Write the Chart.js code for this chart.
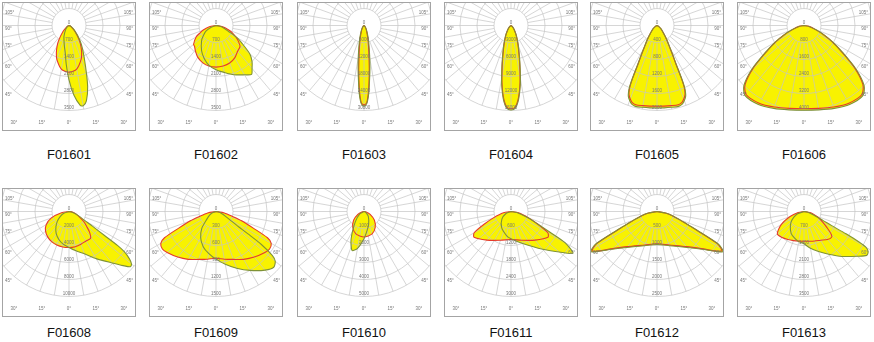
<!DOCTYPE html>
<html>
<head>
<meta charset="utf-8">
<script src="https://cdn.jsdelivr.net/npm/chart.js@4.4.1/dist/chart.umd.min.js"></script>
<style>
  body { margin: 0; background: #fff; }
  #wrap { position: relative; width: 874px; height: 342px; overflow: hidden; }
  .panel { position: absolute; width: 132px; height: 127px; border: 1px solid #a4a4a4; }
  .panel canvas { display: block; }
  .name { position: absolute; width: 134px; text-align: center; font: 13px "Liberation Sans", Arial, sans-serif; color: #111; }
</style>
</head>
<body>
<div id="wrap"></div>
<script>
// panel names and ring step (cd per ring)
const names = ['F01601', 'F01602', 'F01603', 'F01604', 'F01605', 'F01606',
               'F01608', 'F01609', 'F01610', 'F01611', 'F01612', 'F01613'];
const ringSteps = [700, 700, 6000, 3000, 400, 800, 2000, 300, 1000, 600, 500, 700];
const sideAngles = [105, 90, 75, 60, 45];
const bottomTicks = ['30°', '15°', '0°', '15°', '30°'];

// [angle from nadir (deg), intensity cd]; C0-180 plane (red) and C90-270 plane (green)
const c0_01 = [[-90,0],[-60,105],[-45,350],[-35,735],[-30,980],[-25,1230],[-20,1470],[-10,1820],[0,1925],[10,1820],[20,1470],[25,1230],[30,980],[35,735],[45,350],[60,105],[90,0]];
const c90_01 = [[-90,0],[-60,70],[-40,210],[-25,490],[-18,665],[-12,900],[-8,1120],[-4,1610],[0,2240],[4,2870],[8,3325],[10,3360],[13,3185],[17,2625],[22,1820],[30,1120],[37,730],[50,280],[70,70],[90,0]];

const c0_02 = [[-90,0],[-80,280],[-70,595],[-65,735],[-60,945],[-50,1205],[-46,1230],[-40,1330],[-30,1505],[-20,1625],[-10,1695],[0,1715],[10,1695],[20,1645],[30,1540],[40,1385],[49,1310],[55,1120],[60,945],[66,735],[70,595],[80,280],[90,0]];
const c90_02 = [[-90,0],[-70,210],[-60,490],[-50,700],[-44,855],[-30,1190],[-20,1435],[-10,1665],[0,1820],[10,1960],[20,2155],[30,2345],[36,2490],[40,2310],[45,2100],[50,1820],[56,1275],[60,1000],[65,560],[70,385],[80,140],[90,0]];

const c0_03 = [[-90,0],[-45,480],[-30,1500],[-20,3300],[-16,5100],[-12,7800],[-9,11400],[-7,15300],[-6,17700],[-4,23100],[-2,27300],[0,28000],[2,27300],[4,23100],[6,17700],[7,15300],[9,11400],[12,7800],[16,5100],[20,3300],[30,1500],[45,480],[90,0]];
const c90_03 = [[-90,0],[-45,600],[-30,1680],[-22,3300],[-17,5400],[-13,8100],[-10,11700],[-8,15000],[-6,18900],[-4,24000],[-2,27600],[0,28500],[2,27600],[4,24000],[6,18900],[8,15000],[10,11700],[13,8100],[17,5400],[22,3300],[30,1680],[45,600],[90,0]];

const c0_04 = [[-90,0],[-50,300],[-40,750],[-30,1650],[-25,2400],[-20,3600],[-15,5550],[-12,7500],[-9,10200],[-6,12750],[-3,14400],[0,14700],[3,14400],[6,12750],[9,10200],[12,7500],[15,5550],[20,3600],[25,2400],[30,1650],[40,750],[50,300],[90,0]];
const c90_04 = [[-90,0],[-50,330],[-40,800],[-30,1750],[-25,2550],[-20,3800],[-15,5800],[-12,7800],[-9,10500],[-6,13000],[-3,14600],[0,14900],[3,14600],[6,13000],[9,10500],[12,7800],[15,5800],[20,3800],[25,2550],[30,1750],[40,800],[50,330],[90,0]];

const c0_05 = [[-90,0],[-60,50],[-50,120],[-40,240],[-35,380],[-31,540],[-28,780],[-26,1040],[-25,1320],[-24,1560],[-23,1680],[-22,1760],[-20,1840],[-18,1900],[-15,1930],[-10,1915],[-5,1905],[0,1900],[5,1905],[10,1915],[15,1930],[18,1900],[20,1840],[22,1760],[23,1680],[24,1560],[25,1320],[26,1040],[28,780],[31,540],[35,380],[40,240],[50,120],[60,50],[90,0]];
const c90_05 = [[-90,0],[-60,52],[-50,125],[-40,250],[-35,395],[-31,560],[-28,810],[-26,1080],[-25,1370],[-24,1600],[-23,1720],[-22,1800],[-20,1880],[-18,1940],[-15,1970],[-10,1955],[-5,1945],[0,1940],[5,1945],[10,1955],[15,1970],[18,1940],[20,1880],[22,1800],[23,1720],[24,1600],[25,1370],[26,1080],[28,810],[31,560],[35,395],[40,250],[50,125],[60,52],[90,0]];

const c0_06 = [[-90,0],[-80,240],[-70,600],[-65,1000],[-60,1520],[-55,2160],[-50,3120],[-45,3920],[-40,4240],[-30,4220],[-20,4080],[-10,3960],[0,3920],[10,3960],[20,4080],[30,4220],[40,4240],[45,3920],[50,3120],[55,2160],[60,1520],[65,1000],[70,600],[80,240],[90,0]];
const c90_06 = [[-90,0],[-80,250],[-70,630],[-65,1040],[-60,1580],[-55,2230],[-50,3200],[-45,4000],[-40,4310],[-30,4290],[-20,4150],[-10,4030],[0,3990],[10,4030],[20,4150],[30,4290],[40,4310],[45,4000],[50,3200],[55,2230],[60,1580],[65,1040],[70,630],[80,250],[90,0]];

const c0_08 = [[-90,0],[-80,900],[-70,2200],[-60,3100],[-50,3600],[-40,3900],[-30,4100],[-20,4200],[-10,4240],[0,4240],[10,4200],[20,4100],[30,4000],[39,4040],[45,3400],[50,2700],[55,2200],[60,1600],[70,900],[80,400],[90,0]];
const c90_08 = [[-90,0],[-70,700],[-60,1200],[-50,1800],[-40,2400],[-30,3000],[-20,3500],[-10,3900],[0,4240],[10,4700],[20,5300],[30,6400],[40,7900],[45,9000],[48,9720],[50,9600],[52,9000],[54,8000],[55,7000],[56,5000],[58,3200],[60,2200],[65,1300],[70,800],[80,240],[90,0]];

const c0_09 = [[-90,0],[-80,150],[-73,315],[-70,480],[-66,720],[-63,1020],[-60,1125],[-55,1155],[-50,1125],[-40,1050],[-30,975],[-20,900],[-10,855],[0,825],[10,855],[20,900],[30,975],[40,1050],[50,1125],[55,1155],[60,1125],[63,1020],[66,720],[70,480],[73,315],[80,150],[90,0]];
const c90_09 = [[-90,0],[-70,75],[-60,135],[-50,210],[-40,390],[-30,540],[-20,660],[-10,750],[0,840],[10,945],[20,1065],[30,1200],[40,1350],[46,1416],[50,1365],[52,1260],[54,990],[55,690],[56,480],[58,330],[62,210],[70,105],[80,36],[90,0]];

const c0_10 = [[-90,0],[-80,100],[-65,400],[-50,800],[-35,1150],[-20,1400],[0,1500],[20,1400],[35,1150],[50,800],[65,400],[80,100],[90,0]];
const c90_10 = [[-90,0],[-60,300],[-40,800],[-25,1800],[-17,2400],[-10,2200],[0,1600],[10,1100],[20,800],[40,400],[60,150],[90,0]];

const c0_11 = [[-90,0],[-80,270],[-70,660],[-65,1020],[-60,1500],[-55,1590],[-40,1320],[-20,1080],[0,990],[20,1080],[40,1320],[55,1590],[60,1500],[65,1020],[70,660],[80,270],[90,0]];
const c90_11 = [[-90,0],[-70,180],[-50,420],[-30,660],[-10,870],[0,960],[20,1200],[40,1740],[50,2220],[56,2640],[60,2200],[62,1560],[65,1020],[70,600],[80,210],[90,0]];

const c0_12 = [[-90,0],[-80,250],[-75,450],[-70,700],[-67,950],[-65,1250],[-62,2000],[-59,2230],[-57,2150],[-50,1700],[-40,1350],[-20,1050],[0,950],[20,1050],[40,1350],[50,1700],[57,2150],[59,2230],[62,2000],[65,1250],[67,950],[70,700],[75,450],[80,250],[90,0]];
const c90_12 = [[-90,0],[-80,260],[-75,470],[-70,720],[-67,980],[-65,1300],[-62,2050],[-59,2270],[-57,2180],[-50,1730],[-40,1380],[-20,1070],[0,970],[20,1070],[40,1380],[50,1730],[57,2180],[59,2270],[62,2050],[65,1300],[67,980],[70,720],[75,470],[80,260],[90,0]];

const c0_13 = [[-90,0],[-80,245],[-70,610],[-60,1085],[-50,1435],[-40,1400],[-30,1330],[-20,1275],[-10,1240],[0,1225],[10,1245],[20,1295],[30,1365],[40,1505],[47,1555],[50,1470],[55,1155],[60,910],[68,630],[75,385],[80,245],[90,0]];
const c90_13 = [[-90,0],[-70,280],[-60,490],[-50,700],[-40,875],[-30,1050],[-20,1155],[-10,1260],[0,1330],[10,1540],[20,1750],[30,2030],[40,2415],[50,2870],[55,3150],[58,3115],[60,2940],[61,2590],[62,1960],[63,1260],[65,840],[70,420],[80,140],[90,0]];

const redCurves = [c0_01, c0_02, c0_03, c0_04, c0_05, c0_06, c0_08, c0_09, c0_10, c0_11, c0_12, c0_13];
const greenCurves = [c90_01, c90_02, c90_03, c90_04, c90_05, c90_06, c90_08, c90_09, c90_10, c90_11, c90_12, c90_13];

const panelLeft = [2, 149, 297, 444, 590, 737];
const rowTop = [2, 188];
const nameTop = [147, 325];
const W = 132, H = 127;      // canvas inside border
const CX = 66, CY = 22.5;    // lamp position in canvas
const RING = 17;             // px per ring

const YELLOW = '#f8f200';
const RED = '#e53a2c';
const GREEN = '#7f9236';

function toXY(curve) {
    return curve.map(([a, v]) => {
        const t = a * Math.PI / 180;
        return { x: v * Math.sin(t), y: -v * Math.cos(t) };
    });
}

const polarGrid = {
    id: 'polarGrid',
    beforeDatasetsDraw(chart, args, opts) {
        const { ctx, chartArea: ca, scales: { x, y } } = chart;
        const cx = x.getPixelForValue(0), cy = y.getPixelForValue(0);
        const r = k => x.getPixelForValue(k * opts.step) - cx;
        ctx.save();
        ctx.beginPath();
        ctx.rect(ca.left, ca.top, ca.width, ca.height);
        ctx.clip();
        ctx.strokeStyle = '#c4c4c4';
        ctx.lineWidth = 0.7;
        for (let k = 1; k <= 5; k++) {
            ctx.beginPath();
            ctx.arc(cx, cy, r(k), 0, Math.PI * 2);
            ctx.stroke();
        }
        for (let a = 0; a < 360; a += 10) {
            const t = a * Math.PI / 180;
            ctx.beginPath();
            ctx.moveTo(cx + r(1) * Math.sin(t), cy + r(1) * Math.cos(t));
            ctx.lineTo(cx + r(5) * Math.sin(t), cy + r(5) * Math.cos(t));
            ctx.stroke();
        }
        ctx.restore();
    },
    afterDatasetsDraw(chart, args, opts) {
        const { ctx, chartArea: ca, scales: { x, y } } = chart;
        const cx = x.getPixelForValue(0), cy = y.getPixelForValue(0);
        const r = k => x.getPixelForValue(k * opts.step) - cx;
        ctx.save();
        ctx.fillStyle = '#777';
        ctx.font = '4.5px Arial';
        ctx.textAlign = 'center';
        ctx.textBaseline = 'middle';
        ctx.fillText('0', cx, cy - 3);
        for (let k = 1; k <= 5; k++) {
            ctx.fillText(String(k * opts.step), cx, cy + r(k) - 2.5);
        }
        sideAngles.forEach(a => {
            const t = a * Math.PI / 180;
            let yy = cy + (cx - ca.left) * Math.cos(t) / Math.sin(t) + 3;
            yy = Math.max(yy, ca.top + 10);
            ctx.textAlign = 'left';
            ctx.fillText(a + '°', ca.left + 2, yy);
            ctx.textAlign = 'right';
            ctx.fillText(a + '°', ca.right - 2, yy);
        });
        ctx.textAlign = 'center';
        const bx = [-55, -27, 0, 27, 55];
        bottomTicks.forEach((s, i) => ctx.fillText(s, cx + bx[i], ca.bottom - 7));
        ctx.restore();
    }
};

const wrap = document.getElementById('wrap');

names.forEach((name, i) => {
    const row = Math.floor(i / 6), col = i % 6;
    const panel = document.createElement('div');
    panel.className = 'panel';
    panel.style.left = panelLeft[col] + 'px';
    panel.style.top = rowTop[row] + 'px';
    const canvas = document.createElement('canvas');
    canvas.width = W; canvas.height = H;
    canvas.style.width = W + 'px'; canvas.style.height = H + 'px';
    panel.appendChild(canvas);
    wrap.appendChild(panel);

    const label = document.createElement('div');
    label.className = 'name';
    label.style.left = panelLeft[col] + 'px';
    label.style.top = nameTop[row] + 'px';
    label.textContent = name;
    wrap.appendChild(label);

    const step = ringSteps[i];
    const u = step / RING;
    const line = (data, color) => ({
        data: toXY(data), showLine: true, fill: 'shape', tension: 0.25,
        borderColor: color, backgroundColor: YELLOW, borderWidth: 1.1, pointRadius: 0
    });

    new Chart(canvas, {
        type: 'scatter',
        data: { datasets: [line(greenCurves[i], GREEN), line(redCurves[i], RED)] },
        options: {
            responsive: false,
            animation: false,
            events: [],
            layout: { padding: 0 },
            scales: {
                x: { type: 'linear', display: false, min: -CX * u, max: (W - CX) * u },
                y: { type: 'linear', display: false, min: -(H - CY) * u, max: CY * u }
            },
            plugins: {
                legend: { display: false },
                tooltip: { enabled: false },
                filler: { drawTime: 'beforeDatasetsDraw' },
                polarGrid: { step: step }
            }
        },
        plugins: [polarGrid]
    });
});
</script>
</body>
</html>
